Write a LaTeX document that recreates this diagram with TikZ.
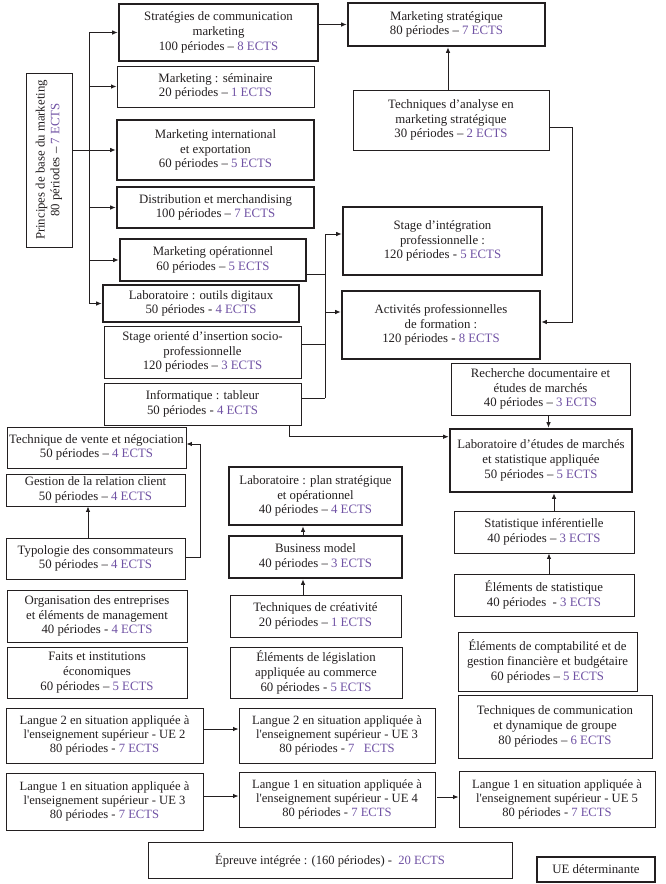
\documentclass[tikz,border=0pt]{standalone}
\usepackage{fontspec}
\setmainfont{Liberation Serif}
\usetikzlibrary{arrows.meta,calc}
\definecolor{ects}{RGB}{112,82,164}
\definecolor{ink}{RGB}{35,31,32}
\newcommand{\ec}[1]{\textcolor{ects}{#1}}
\newcommand{\sq}{{\addfontfeatures{Ligatures=TeXOff}'}}
\newcommand{\ubox}[7]{\node[#1, minimum width={(#5-#3)*1pt}, minimum height={(#6-#4)*1pt}] (#2) at ({(#3+#5)/2},{(#4+#6)/2}) {#7};}
\tikzset{
  thinbox/.style={draw=ink, line width=0.9pt, align=center, inner sep=0pt, text=ink, font=\fontsize{12.8}{14.8}\selectfont},
  thickbox/.style={thinbox, line width=2.6pt},
  legendbox/.style={thinbox, line width=1.6pt},
  langbox/.style={thinbox, font=\fontsize{12.6}{14}\selectfont},
  link/.style={draw=ink, line width=0.9pt},
  arr/.style={link, -{Latex[length=5.5pt,width=4.5pt]}},
}
\begin{document}
\begin{tikzpicture}[x=1pt,y=-1pt]
\useasboundingbox (0,0) rectangle (666,884);
\fill[white] (0,0) rectangle (666,884);
% left column
\node[thinbox, rotate=90, minimum width=174pt, minimum height=46pt] (princ) at (49,160) {Principes de base du marketing\\80 périodes – \ec{7 ECTS}};
\ubox{thickbox}{strat}{119}{4}{318}{61}{Stratégies de communication\\marketing\\100 périodes – \ec{8 ECTS}}
\ubox{thinbox}{sem}{117}{66}{314}{107}{Marketing : séminaire\\20 périodes – \ec{1 ECTS}}
\ubox{thickbox}{mint}{117}{120}{314}{180}{Marketing international\\et exportation\\60 périodes – \ec{5 ECTS}}
\ubox{thickbox}{dist}{117}{187}{314}{228}{Distribution et merchandising\\100 périodes – \ec{7 ECTS}}
\ubox{thickbox}{mop}{120}{239}{306}{281}{Marketing opérationnel\\60 périodes – \ec{5 ECTS}}
\ubox{thickbox}{lab}{103}{285}{299}{322}{Laboratoire : outils digitaux\\50 périodes - \ec{4 ECTS}}
\ubox{thinbox}{stor}{104}{326}{301}{378}{Stage orienté d’insertion socio-\\professionnelle\\120 périodes – \ec{3 ECTS}}
\ubox{thinbox}{info}{104}{383}{301}{425}{Informatique : tableur\\50 périodes - \ec{4 ECTS}}
\ubox{thinbox}{tv}{7}{427}{186}{468}{Technique de vente et négociation\\50 périodes – \ec{4 ECTS}}
\ubox{thinbox}{grc}{6}{474}{185}{506}{Gestion de la relation client\\50 périodes – \ec{4 ECTS}}
\ubox{thinbox}{typo}{6}{538}{185}{579}{Typologie des consommateurs\\50 périodes – \ec{4 ECTS}}
\ubox{thinbox}{org}{7}{590}{187}{642}{Organisation des entreprises\\et éléments de management\\40 périodes - \ec{4 ECTS}}
\ubox{thinbox}{faits}{7}{647}{187}{698}{Faits et institutions\\économiques\\60 périodes – \ec{5 ECTS}}
% middle column
\ubox{thickbox}{lplan}{229}{467}{402}{525}{Laboratoire : plan stratégique\\et opérationnel\\40 périodes – \ec{4 ECTS}}
\ubox{thickbox}{bm}{229}{536}{402}{578}{Business model\\40 périodes – \ec{3 ECTS}}
\ubox{thinbox}{crea}{230}{595}{401}{637}{Techniques de créativité\\20 périodes – \ec{1 ECTS}}
\ubox{thinbox}{legis}{230}{647}{402}{698}{Éléments de législation\\appliquée au commerce\\60 périodes - \ec{5 ECTS}}
% right column
\ubox{thickbox}{mstrat}{348}{3}{545}{46}{Marketing stratégique\\80 périodes – \ec{7 ECTS}}
\ubox{thinbox}{tana}{353}{90}{549}{150}{Techniques d’analyse en\\marketing stratégique\\30 périodes – \ec{2 ECTS}}
\ubox{thickbox}{stint}{343}{207}{542}{275}{Stage d’intégration\\professionnelle :\\120 périodes - \ec{5 ECTS}}
\ubox{thickbox}{act}{342}{291}{540}{359}{Activités professionnelles\\de formation :\\120 périodes - \ec{8 ECTS}}
\ubox{thinbox}{rech}{451}{363}{630}{415}{Recherche documentaire et\\études de marchés\\40 périodes – \ec{3 ECTS}}
\ubox{thickbox}{labet}{450}{429}{632}{492}{Laboratoire d’études de marchés\\et statistique appliquée\\50 périodes – \ec{5 ECTS}}
\ubox{thinbox}{statinf}{454}{511}{634}{553}{Statistique inférentielle\\40 périodes – \ec{3 ECTS}}
\ubox{thinbox}{elstat}{454}{574}{634}{616}{Éléments de statistique\\40 périodes~~- \ec{3 ECTS}}
\ubox{thinbox}{compta}{458}{632}{637}{691}{Éléments de comptabilité et de\\gestion financière et budgétaire\\60 périodes – \ec{5 ECTS}}
\ubox{thinbox}{tcomm}{458}{695}{652}{758}{Techniques de communication\\et dynamique de groupe\\80 périodes – \ec{6 ECTS}}
% languages
\ubox{langbox}{l22}{6}{708}{203}{763}{Langue 2 en situation appliquée à\\l\sq enseignement supérieur - UE 2\\80 périodes - \ec{7 ECTS}}
\ubox{langbox}{l23}{239}{708}{435}{763}{Langue 2 en situation appliquée à\\l\sq enseignement supérieur - UE 3\\80 périodes - \ec{7~~~ECTS}}
\ubox{langbox}{l13}{6}{773}{203}{830}{Langue 1 en situation appliquée à\\l\sq enseignement supérieur - UE 3\\80 périodes - \ec{7 ECTS}}
\ubox{langbox}{l14}{239}{772}{435}{827}{Langue 1 en situation appliquée à\\l\sq enseignement supérieur - UE 4\\80 périodes - \ec{7 ECTS}}
\ubox{langbox}{l15}{459}{771}{655}{827}{Langue 1 en situation appliquée à\\l\sq enseignement supérieur - UE 5\\80 périodes - \ec{7 ECTS}}
\ubox{langbox}{epr}{148}{842}{512}{878}{Épreuve intégrée : (160 périodes) -~~\ec{20 ECTS}}
\ubox{legendbox}{ued}{537}{857}{655}{882}{UE déterminante}
% left fan
\coordinate (fanx) at (89,0);
\draw[link] (strat.west -| fanx) -- (lab.west -| fanx);
\draw[link] (princ.south |- mint.west) -- (mint.west -| fanx);
\foreach \n in {strat,sem,mint,dist,mop,lab} \draw[arr] (\n.west -| fanx) -- (\n.west);
% middle fan
\coordinate (midx) at (325,0);
\draw[link] ([yshift=7pt]stint.west -| midx) -- ([yshift=6pt]info.east -| midx);
\draw[arr] ([yshift=7pt]stint.west -| midx) -- ([yshift=7pt]stint.west);
\draw[arr] ([yshift=13pt]act.west -| midx) -- ([yshift=13pt]act.west);
\draw[link] ([yshift=-14pt]mop.east) -- ([yshift=-14pt]mop.east -| midx);
\draw[link] ([yshift=8pt]stor.east) -- ([yshift=8pt]stor.east -| midx);
\draw[link] ([yshift=6pt]info.east) -- ([yshift=6pt]info.east -| midx);
\draw[arr] ([xshift=87pt]info.south) |- ([yshift=-9pt]labet.north west);
% right column links
\draw[arr] (strat.east |- mstrat.west) -- (mstrat.west);
\draw[arr] ([xshift=-3pt]tana.north) -- ([xshift=-3pt]tana.north |- mstrat.south);
\draw[arr] ([yshift=-7pt]tana.east) -- ++(23,0) |- ([yshift=3pt]act.east);
\draw[arr] ([xshift=8pt]rech.south) -- ([xshift=8pt]rech.south |- labet.north);
\draw[arr] ([xshift=10pt]statinf.north) -- ([xshift=10pt]statinf.north |- labet.south);
\draw[arr] ([xshift=5pt]elstat.north) -- ([xshift=5pt]elstat.north |- statinf.south);
% left-bottom links
\draw[arr] ([xshift=-7.5pt]typo.north) -- ([xshift=-7.5pt]typo.north |- grc.south);
\draw[arr] ([yshift=1.5pt]typo.east) -- ++(15,0) |- ([yshift=3.5pt]tv.east);
\draw[arr] ([xshift=-12.5pt]bm.north) -- ([xshift=-12.5pt]bm.north |- lplan.south);
\draw[arr] ([xshift=-12.5pt]crea.north) -- ([xshift=-12.5pt]crea.north |- bm.south);
% languages
\draw[arr] ([yshift=6.5pt]l22.east) -- ([yshift=6.5pt]l22.east -| l23.west);
\draw[arr] ([yshift=5.5pt]l13.east) -- ([yshift=5.5pt]l13.east -| l14.west);
\draw[arr] ([yshift=2.5pt,xshift=2pt]l14.east) -- ([yshift=2.5pt]l14.east -| l15.west);
\end{tikzpicture}
\end{document}
